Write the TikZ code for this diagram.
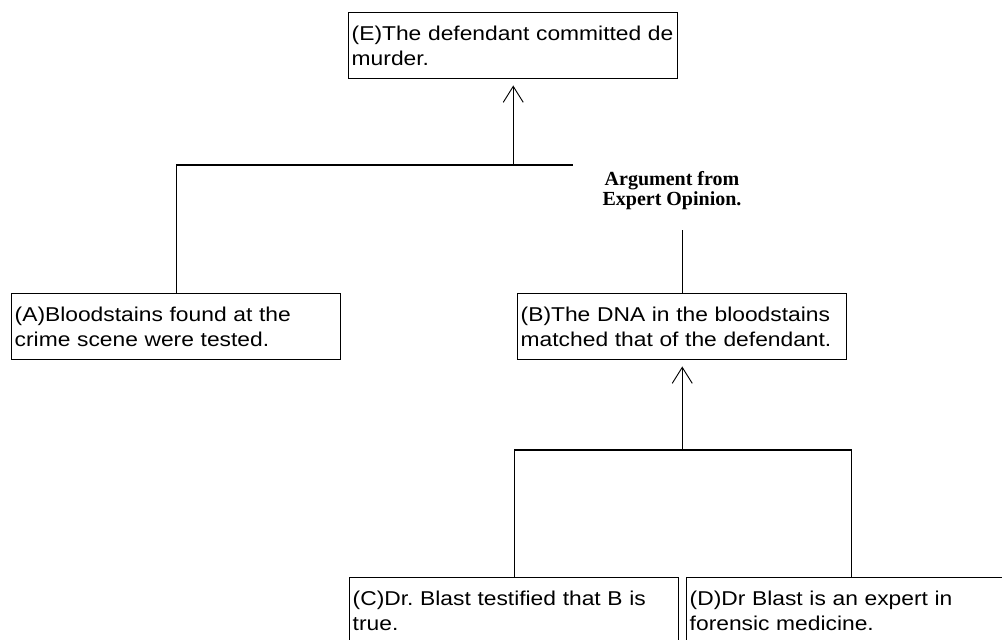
\documentclass[tikz,border=0pt]{standalone}
\usepackage{fontspec}
\usetikzlibrary{arrows.meta}
\newfontfamily\boxfont{Liberation Sans}[FakeStretch=1.14]
\newfontfamily\labfont{Liberation Serif}
\frenchspacing
\begin{document}
\begin{tikzpicture}[x=0.75pt,y=-0.75pt,
  claim/.style={draw=black, line width=1.1pt, anchor=north west,
    text width=242.25pt, inner xsep=2.25pt, inner ysep=0pt,
    minimum height=49.5pt, align=left,
    font=\boxfont\fontsize{15pt}{18.75pt}\selectfont},
  link/.style={line width=1.1pt},
  support/.style={line width=1.1pt, shorten >=4.5pt,
    -{Straight Barb[length=12pt,width=15pt,line width=0.7pt]}},
  scheme/.style={inner sep=0pt, anchor=north, align=center,
    font=\labfont\bfseries\fontsize{15pt}{15pt}\selectfont}]
  \path[use as bounding box] (0,0) rectangle (1002,639);
  \clip (0,0) rectangle (1002,639);
  \fill[white] (0,0) rectangle (1002,639);

  % claims
  \node[claim] (E) at (348,12) {(E)The defendant committed de\\murder.};
  \node[claim] (A) at (11,293) {(A)Bloodstains found at the\\crime scene were tested.};
  \node[claim] (B) at (517,293) {(B)The DNA in the bloodstains\\matched that of the defendant.};
  \node[claim] (C) at (349,577) {(C)Dr. Blast testified that B is\\true.};
  \node[claim] (D) at (686,577) {(D)Dr Blast is an expert in\\forensic medicine.};

  % argumentation scheme label
  \node[scheme] (L) at (672,171) {Argument from\\Expert Opinion.};

  % junction points of the connectors
  \coordinate (top) at (573,165);
  \coordinate (mid) at (682,230);
  \coordinate (low) at (0,450);

  % A and B jointly support E
  \draw[link] (A.north) |- (top);
  \draw[support] (E.south |- top) -- (E.south);
  \draw[link] (B.north) -- (B.north |- mid);

  % C and D jointly support B
  \draw[link] (C.north) -- (C.north |- low) -- (D.north |- low) -- (D.north);
  \draw[support] (B.south |- low) -- (B.south);
\end{tikzpicture}
\end{document}
